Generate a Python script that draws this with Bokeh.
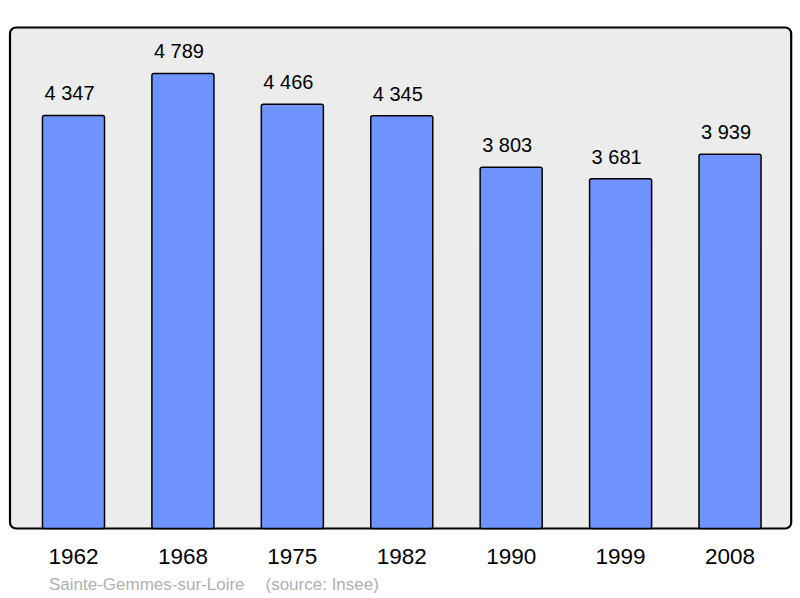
from bokeh.plotting import figure
from bokeh.models import ColumnDataSource, BoxAnnotation, Label, Range1d
from bokeh.core.properties import value
from bokeh.embed import file_html
from bokeh.resources import INLINE

years = ["1962", "1968", "1975", "1982", "1990", "1999", "2008"]
population = [4347, 4789, 4466, 4345, 3803, 3681, 3939]
value_labels = ["4 347", "4 789", "4 466", "4 345", "3 803", "3 681", "3 939"]
place = "Sainte-Gemmes-sur-Loire"
source_note = "(source: Insee)"

FONT = "Liberation Sans"
W, H = 800, 598
k = 10.525          # population units per pixel
y_zero_px = 70      # px from bottom of figure to zero line
x_step = 109.42     # px per category
x_first = 73        # px of first category centre

src = ColumnDataSource(dict(
    x=list(range(len(years))),
    pop=population,
    lab=value_labels,
    yr=years,
    zero=[0] * len(years),
))

p = figure(width=W, height=H, output_backend="svg", toolbar_location=None,
           x_axis_type=None, y_axis_type=None, min_border=0,
           x_range=Range1d(-x_first / x_step, (W - x_first) / x_step),
           y_range=Range1d(-y_zero_px * k, (H - y_zero_px) * k))
p.outline_line_color = None
p.background_fill_color = "white"
p.border_fill_color = "white"
p.grid.visible = False

box = BoxAnnotation(left=9.5, right=790.7, top=H - 27, bottom=0,
                    left_units="screen", right_units="screen", top_units="screen",
                    bottom_units="data",
                    fill_color="#ececec", fill_alpha=1.0,
                    line_color="black", line_alpha=1.0, line_width=2.2,
                    border_radius=6, level="underlay")
p.add_layout(box)

p.vbar(x="x", top="pop", bottom=0, width=0.567, source=src,
       fill_color="#7094ff", line_color="black", line_width=1.5, border_radius=2)

p.text(x="x", y="pop", text="lab", source=src, y_offset=-22, x_offset=-29,
       text_font=value(FONT), text_font_size="20px", text_color="black",
       text_align="left", text_baseline="alphabetic")

p.text(x="x", y="zero", text="yr", source=src, y_offset=28,
       text_font=value(FONT), text_font_size="22.5px", text_color="black",
       text_align="center", text_baseline="alphabetic")

p.add_layout(Label(x=48.5, y=14, x_units="screen", y_units="screen", text=place,
                   text_font=FONT, text_font_size="17px", text_color="#b0b0b0",
                   text_baseline="alphabetic"))
p.add_layout(Label(x=265, y=14, x_units="screen", y_units="screen", text=source_note,
                   text_font=FONT, text_font_size="17px", text_color="#b0b0b0",
                   text_baseline="alphabetic"))

open("out.html", "w").write(file_html(p, INLINE))
